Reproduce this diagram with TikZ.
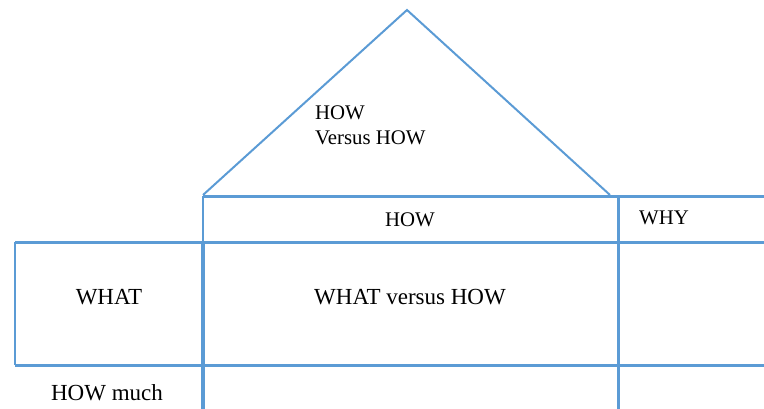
\documentclass[tikz,border=0pt]{standalone}
\usepackage{fontspec}
\setmainfont{Liberation Serif}
\definecolor{lineblue}{RGB}{91,155,213}
\begin{document}
\begin{tikzpicture}[x=1pt,y=-1pt,
  thinline/.style={draw=lineblue,line width=2pt},
  thickline/.style={draw=lineblue,line width=3pt},
  bigtext/.style={anchor=base,inner sep=0pt,font=\fontsize{23}{26}\selectfont},
  smalltext/.style={anchor=base,inner sep=0pt,font=\fontsize{20.8}{25}\selectfont}]
\useasboundingbox (0,0) rectangle (764,409);
% roof
\coordinate (apex) at (407,10);
\coordinate (roofL) at (203,195);
\coordinate (roofR) at (610,195);
\draw[thinline,line join=miter] (roofL) -- (apex) -- (roofR);
% grid coordinates
\coordinate (hTopL) at (203,196.5);
\coordinate (hTopR) at (764,196.5);
\coordinate (hMidL) at (15,242.5);
\coordinate (hMidR) at (764,242.5);
\coordinate (hBotL) at (15,365);
\coordinate (hBotR) at (764,365);
\coordinate (v1top) at (203,196);
\coordinate (v1mid) at (203,242.5);
\coordinate (v1bot) at (203,409);
\coordinate (v2top) at (618,196);
\coordinate (v2bot) at (618,409);
\coordinate (v0top) at (15,242.5);
\coordinate (v0bot) at (15,365);
% lines
\draw[thickline] (hTopL) -- (hTopR);
\draw[thickline] (hMidL) -- (hMidR);
\draw[thickline] (hBotL) -- (hBotR);
\draw[thinline] (v1top) -- (v1mid);
\draw[draw=lineblue,line width=4pt] (v1mid) -- (v1bot);
\draw[thickline] (v2top) -- (v2bot);
\draw[thinline] (v0top) -- (v0bot);
% texts
\node[smalltext,anchor=base west] (hvh1) at (315,120) {HOW};
\node[smalltext,anchor=base west] (hvh2) at (315,145) {Versus HOW};
\node[smalltext] (how) at (410,226) {HOW};
\node[smalltext] (why) at (664,225) {WHY};
\node[bigtext] (what) at (109,304) {WHAT};
\node[bigtext] (wvh) at (410,304) {WHAT versus HOW};
\node[bigtext] (howmuch) at (107,400) {HOW much};
\end{tikzpicture}
\end{document}
